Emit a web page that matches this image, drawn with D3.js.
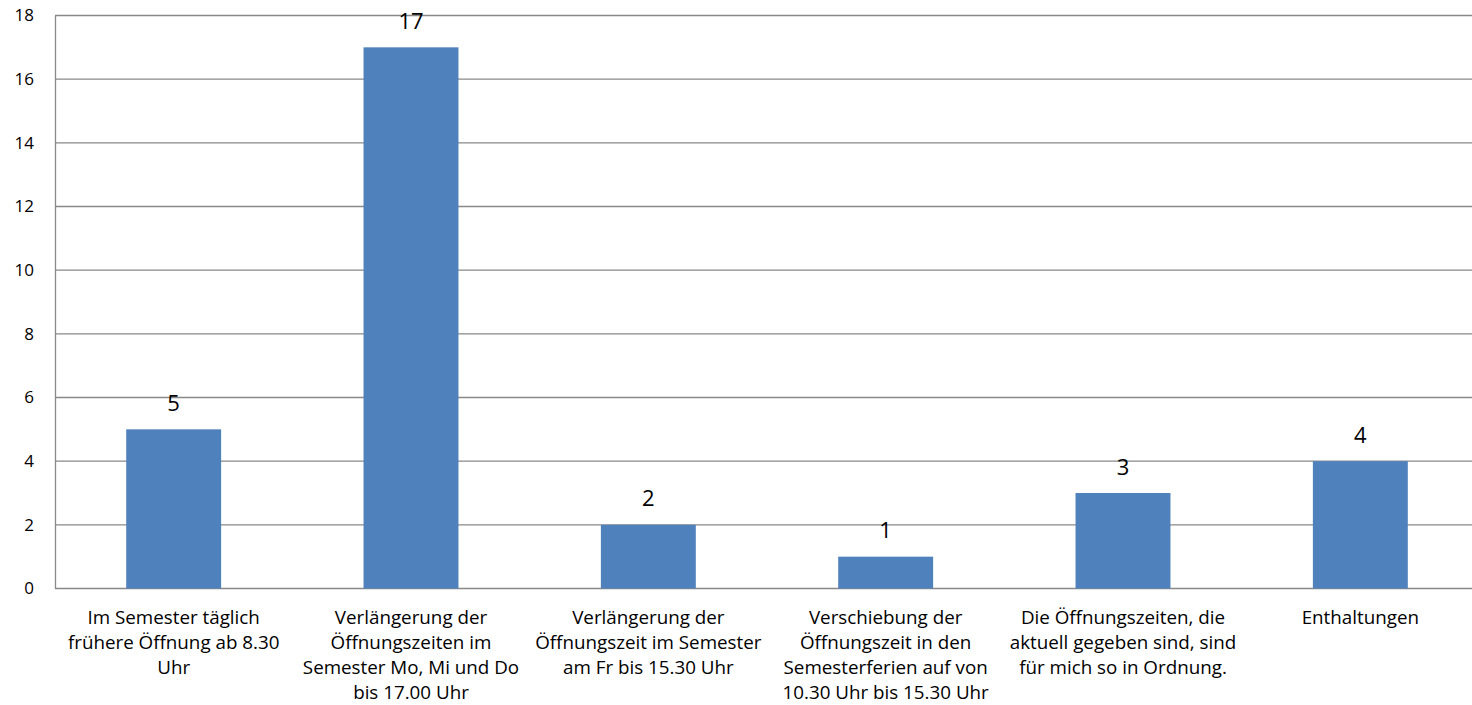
<!DOCTYPE html>
<html><head><meta charset="utf-8">
<script src="https://cdn.jsdelivr.net/npm/d3@7"></script>
<style>body{margin:0;background:#fff}svg{display:block}</style>
</head><body>
<script>
const categories = [
  ["Im Semester täglich", "frühere Öffnung ab 8.30", "Uhr"],
  ["Verlängerung der", "Öffnungszeiten im", "Semester Mo, Mi und Do", "bis 17.00 Uhr"],
  ["Verlängerung der", "Öffnungszeit im Semester", "am Fr bis 15.30 Uhr"],
  ["Verschiebung der", "Öffnungszeit in den", "Semesterferien auf von", "10.30 Uhr bis 15.30 Uhr"],
  ["Die Öffnungszeiten, die", "aktuell gegeben sind, sind", "für mich so in Ordnung."],
  ["Enthaltungen"]
];
const values = [5, 17, 2, 1, 3, 4];
const yTicks = [0, 2, 4, 6, 8, 10, 12, 14, 16, 18];

const W = 1472, H = 705;
const m = {left: 55, right: 1479, top: 15.5, bottom: 588.5};
const font = "'Open Sans', Lato, sans-serif";
const svg = d3.select("body").append("svg").attr("width", W).attr("height", H);

const x = d3.scaleBand().domain(d3.range(categories.length)).range([m.left, m.right])
  .paddingInner(0.6).paddingOuter(0.3);
const y = d3.scaleLinear().domain([0, 18]).range([m.bottom, m.top]);

// gridlines
svg.append("g").selectAll("line").data(yTicks).join("line")
  .attr("x1", m.left).attr("x2", m.right)
  .attr("y1", d => y(d)).attr("y2", d => y(d))
  .attr("stroke", "#898989").attr("stroke-width", 1.3);

// y axis
const yAxis = svg.append("g").attr("transform", `translate(${m.left},0)`)
  .call(d3.axisLeft(y).tickValues(yTicks).tickSize(0).tickPadding(21));
yAxis.select(".domain").attr("stroke", "#898989").attr("stroke-width", 1.3);
yAxis.selectAll("text").attr("font-family", font).attr("font-size", 17).attr("fill", "#000");

// bars
svg.append("g").selectAll("rect").data(values).join("rect")
  .attr("x", (d, i) => x(i)).attr("width", x.bandwidth())
  .attr("y", d => y(d)).attr("height", d => y(0) - y(d))
  .attr("fill", "#4F81BD");

// data labels
svg.append("g").selectAll("text").data(values).join("text")
  .attr("x", (d, i) => x(i) + x.bandwidth() / 2)
  .attr("y", d => y(d) - 18.5)
  .attr("text-anchor", "middle").attr("font-family", font).attr("font-size", 22).attr("fill", "#000")
  .text(d => d);

// category labels
const cg = svg.append("g").selectAll("text").data(categories).join("text")
  .attr("text-anchor", "middle").attr("font-family", font).attr("font-size", 18.8).attr("fill", "#000");
cg.selectAll("tspan").data((d, i) => d.map(t => ({t, i}))).join("tspan")
  .attr("x", d => x(d.i) + x.bandwidth() / 2)
  .attr("y", (d, j) => 623.5 + j * 25.3)
  .text(d => d.t);
</script>
</body></html>
